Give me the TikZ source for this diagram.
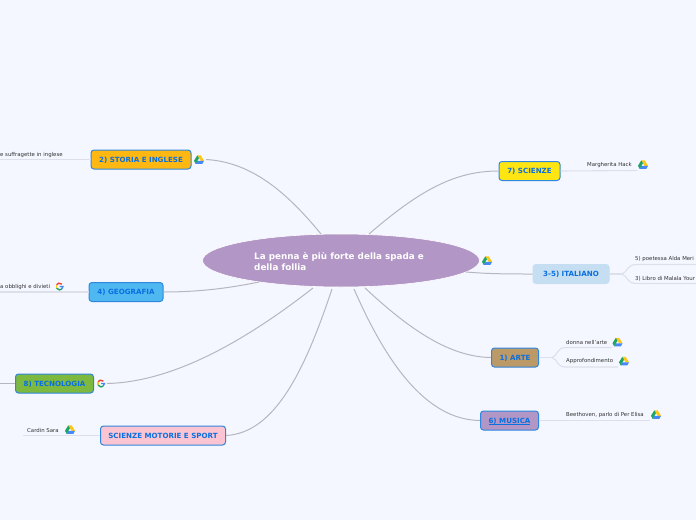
\documentclass[tikz,border=0pt]{standalone}
\usepackage{fontspec}
\usetikzlibrary{shapes.geometric}
\setmainfont{DejaVu Sans}
\definecolor{bgc}{HTML}{F4F7FF}
\definecolor{hub}{HTML}{B196C6}
\definecolor{wire}{HTML}{B6B7BE}
\definecolor{leafwire}{HTML}{DDE0EB}
\definecolor{ink}{HTML}{0A6FE0}
\definecolor{edge}{HTML}{2E86DE}
\definecolor{leafink}{HTML}{333333}
\definecolor{dg}{HTML}{1FA463}
\definecolor{dy}{HTML}{FFC61A}
\definecolor{db}{HTML}{4688F4}
\definecolor{gr}{HTML}{EA4335}
\definecolor{cstoria}{HTML}{FFB812}
\definecolor{cgeo}{HTML}{4FB8F0}
\definecolor{ctecno}{HTML}{7DB83F}
\definecolor{csport}{HTML}{FBC4D2}
\definecolor{cscienze}{HTML}{FFE612}
\definecolor{cita}{HTML}{C5DEF2}
\definecolor{carte}{HTML}{BC9A68}
\newcommand\ulink[1]{\setbox0=\hbox{#1}\rlap{\rule[-1.1pt]{\wd0}{.6pt}}\box0}
\tikzset{
  x=1pt,y=-1pt,
  topic/.style={draw=edge,line width=1pt,rounded corners=3pt,minimum height=19pt,inner sep=0pt,
    text height=5.2pt,text depth=0pt,
    text=ink,font=\fontsize{7.1pt}{8pt}\selectfont\bfseries,anchor=center},
  leaf/.style={anchor=west,inner sep=0pt,yshift=-.5pt,text=leafink,font=\fontsize{5.4pt}{6.5pt}\selectfont},
  curve/.style={draw=wire,line width=1pt},
  leafline/.style={draw=leafwire,line width=1.1pt},
  drive/.pic={
    \fill[dy] (-1.7,-4.2)--(1.7,-4.2)--(5,1.3)--(1.6,1.3)--cycle;
    \fill[db] (-1.7,1.3)--(5,1.3)--(3.4,4.3)--(-3.4,4.3)--cycle;
    \fill[dg] (-1.7,-4.2)--(0,-1.3)--(-3.4,4.3)--(-5,1.3)--cycle;
  },
  googleg/.pic={
    \draw[gr,line width=1.4pt] (2.4,-2.4) arc[start angle=-45,end angle=-150,radius=3.4];
    \draw[dy,line width=1.4pt] (-2.94,-1.7) arc[start angle=-150,end angle=-210,radius=3.4];
    \draw[dg,line width=1.4pt] (-2.94,1.7) arc[start angle=-210,end angle=-310,radius=3.4];
    \draw[db,line width=1.4pt] (2.19,2.6) arc[start angle=-310,end angle=-360,radius=3.4] -- (0.2,0);
  }
}
\begin{document}
\begin{tikzpicture}
\useasboundingbox (0,0) rectangle (696,520);
\clip (0,0) rectangle (696,520);
\fill[bgc] (0,0) rectangle (696,520);

% hub
\node[ellipse,draw=white,line width=.6pt,fill=hub,minimum width=277pt,minimum height=53pt,inner sep=0pt] (hub) at (341,260.5) {};
\node[anchor=west,inner sep=0pt,text=white,align=left,font=\fontsize{8.8pt}{11pt}\selectfont\bfseries] (hubtext) at (254,261.5) {La penna è più forte della spada e\\della follia};
\pic at (487,260.5) {drive};

% topics
\node[topic,fill=cstoria,minimum width=100pt] (storia) at (141,159.5) {2) STORIA E INGLESE};
\node[topic,fill=cgeo,minimum width=74pt] (geo) at (126,292) {4) GEOGRAFIA};
\node[topic,fill=ctecno,minimum width=78pt] (tecno) at (54.5,383.5) {8) TECNOLOGIA};
\node[topic,fill=csport,minimum width=125pt] (sport) at (163,435.5) {SCIENZE MOTORIE E SPORT};
\node[topic,fill=cscienze,minimum width=61pt] (scienze) at (529.5,171) {7) SCIENZE};
\node[topic,draw=cita,fill=cita,minimum width=76pt] (ita) at (571,274) {3-5) ITALIANO};
\node[topic,fill=carte,minimum width=47pt] (arte) at (515,357.5) {1) ARTE};
\node[topic,fill=hub,minimum width=58pt] (musica) at (509.5,420.5) {\ulink{6) MUSICA}};

% main connectors
\coordinate (hs) at (321,234);
\coordinate (hg) at (259,282);
\coordinate (ht) at (313,288);
\coordinate (hm) at (332,289);
\coordinate (hn) at (369,234);
\coordinate (hi) at (466,272);
\coordinate (ha) at (365,288);
\coordinate (hu) at (354,289);
\coordinate (ds) at (206,159.5);
\coordinate (gt) at (107,383.5);
\draw[curve] (hs) .. controls (285,190) and (250,162) .. (ds);
\draw[curve] (hg) .. controls (225,289) and (195,292) .. (geo.east);
\draw[curve] (ht) .. controls (240,345) and (170,382) .. (gt);
\draw[curve] (hm) .. controls (305,370) and (275,433) .. (sport.east);
\draw[curve] (hn) .. controls (420,190) and (455,171) .. (scienze.west);
\draw[curve] (hi) .. controls (490,274) and (510,274) .. (ita.west);
\draw[curve] (ha) .. controls (410,330) and (450,357) .. (arte.west);
\draw[curve] (hu) .. controls (385,360) and (425,420) .. (musica.west);

% leaves
\node[leaf] (l1) at (0,154.5) {e suffragette in inglese};
\coordinate (l1e) at (0,159.5);
\draw[leafline] (storia.west) -- (l1e);
\pic at (199,159.5) {drive};

\node[leaf] (l2) at (0,286.5) {a obblighi e divieti};
\coordinate (l2e) at (0,292);
\draw[leafline] (geo.west) -- (l2e);
\pic at (59.5,286.5) {googleg};

\coordinate (l3e) at (0,383.5);
\draw[wire,line width=.6pt] (tecno.west) -- (l3e);
\pic at (101,383.5) {googleg};

\node[leaf] (l4) at (27,430) {Cardin Sara};
\coordinate (l4e) at (23,435.5);
\draw[leafline] (sport.west) -- (l4e);
\pic at (70,429.5) {drive};

\node[leaf] (l5) at (587,165) {Margherita Hack};
\coordinate (l5e) at (637,170.5);
\draw[leafline] (scienze.east) -- (l5e);
\pic at (643,164.5) {drive};

\node[leaf] (l6) at (635,259) {5) poetessa Alda Meri};
\node[leaf] (l7) at (635,278) {3) Libro di Malala Your};
\coordinate (il) at (622,274);
\coordinate (l6e) at (696,264.5);
\coordinate (l7e) at (696,283.5);
\draw[leafline] (ita.east) -- (il);
\draw[leafline] (il) .. controls (628,272) and (626,264.5) .. (637,264.5) -- (l6e);
\draw[leafline] (il) .. controls (628,276) and (626,283.5) .. (637,283.5) -- (l7e);

\node[leaf] (l8) at (566,342) {donna nell'arte};
\node[leaf] (l9) at (566,361) {Approfondimento};
\coordinate (al) at (552,357.5);
\coordinate (l8e) at (612,347.5);
\coordinate (l9e) at (618,367);
\draw[leafline] (arte.east) -- (al);
\draw[leafline] (al) .. controls (558,356) and (556,347.5) .. (566,347.5) -- (l8e);
\draw[leafline] (al) .. controls (558,359) and (556,367) .. (566,367) -- (l9e);
\pic at (617.5,342) {drive};
\pic at (624,361) {drive};

\node[leaf] (l10) at (566,415) {Beethoven, parlo di Per Elisa};
\coordinate (l10e) at (650,420.5);
\draw[leafline] (musica.east) -- (l10e);
\pic at (656,414.5) {drive};
\end{tikzpicture}
\end{document}
